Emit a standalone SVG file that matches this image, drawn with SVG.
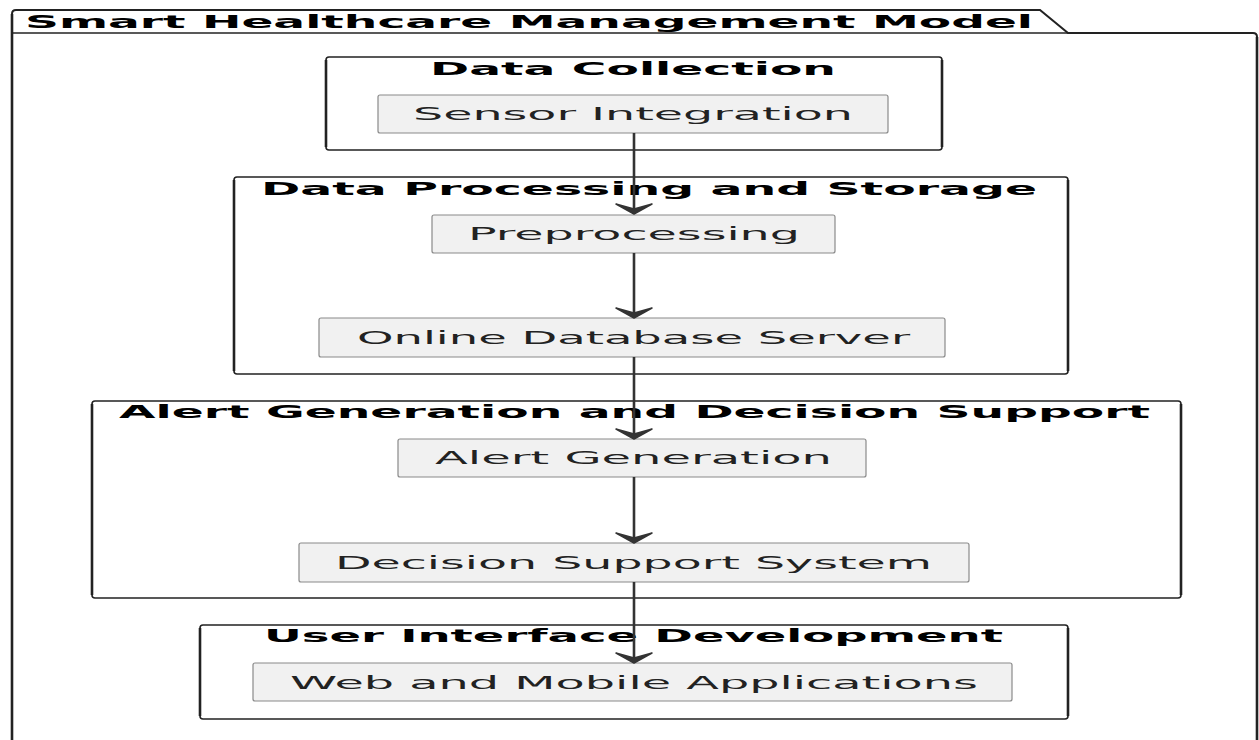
<svg xmlns="http://www.w3.org/2000/svg" width="1259" height="740" viewBox="0 0 1259 740">
<style>
.frame{fill:none;stroke:#222;stroke-width:1.6}
.vside{stroke:#222;stroke-width:2.6;fill:none}
.node{fill:#f1f1f1;stroke:#8a8a8a;stroke-width:1.2}
.ttl{font-family:"DejaVu Sans",sans-serif;font-weight:bold;font-size:17px;fill:#000}
.lbl{font-family:"DejaVu Sans",sans-serif;font-size:17px;fill:#222}
.edge{stroke:#333;stroke-width:2.6;fill:none}
.head{fill:#333;stroke:#333;stroke-width:1.5;stroke-linejoin:round}
</style>
<rect width="1259" height="740" fill="#fff"/>
<g id="package">
<path d="M12,740 V14 Q12,10 16,10 H1040 L1068,33 H1253 Q1257,33 1257,37 V740" fill="none" stroke="#222" stroke-width="2"/>
<path class="vside" d="M12,14 V740 M1257,37 V740"/>
<line x1="12" y1="33" x2="1068" y2="33" stroke="#222" stroke-width="1.5"/>
<text class="ttl" x="25" y="28" font-size="18" textLength="1008" lengthAdjust="spacingAndGlyphs">Smart Healthcare Management Model</text>
</g>
<g id="data-collection">
<rect class="frame" x="326" y="57" width="616" height="93" rx="3"/>
<path class="vside" d="M326,60 V147 M942,60 V147"/>
<text class="ttl" x="430" y="75" textLength="406" lengthAdjust="spacingAndGlyphs">Data Collection</text>
</g>
<g id="sensor-integration">
<rect class="node" x="378" y="95" width="510" height="38" rx="2"/>
<text class="lbl" x="413" y="120" textLength="440" lengthAdjust="spacingAndGlyphs">Sensor Integration</text>
</g>
<g id="data-processing">
<rect class="frame" x="234" y="177" width="834" height="197" rx="3"/>
<path class="vside" d="M234,180 V371 M1068,180 V371"/>
<text class="ttl" x="261" y="195" textLength="776" lengthAdjust="spacingAndGlyphs">Data Processing and Storage</text>
</g>
<g id="preprocessing">
<rect class="node" x="432" y="215" width="403" height="38" rx="2"/>
<text class="lbl" x="468" y="240" textLength="332" lengthAdjust="spacingAndGlyphs">Preprocessing</text>
</g>
<g id="online-database-server">
<rect class="node" x="319" y="318" width="626" height="39" rx="2"/>
<text class="lbl" x="357" y="344" textLength="553" lengthAdjust="spacingAndGlyphs">Online Database Server</text>
</g>
<g id="alert-decision">
<rect class="frame" x="92" y="401" width="1089" height="197" rx="3"/>
<path class="vside" d="M92,404 V595 M1181,404 V595"/>
<text class="ttl" x="119" y="418" textLength="1031" lengthAdjust="spacingAndGlyphs">Alert Generation and Decision Support</text>
</g>
<g id="alert-generation">
<rect class="node" x="398" y="439" width="468" height="38" rx="2"/>
<text class="lbl" x="435" y="464" textLength="397" lengthAdjust="spacingAndGlyphs">Alert Generation</text>
</g>
<g id="decision-support-system">
<rect class="node" x="299" y="543" width="670" height="39" rx="2"/>
<text class="lbl" x="335" y="569" textLength="597" lengthAdjust="spacingAndGlyphs">Decision Support System</text>
</g>
<g id="user-interface">
<rect class="frame" x="200" y="625" width="868" height="94" rx="3"/>
<path class="vside" d="M200,628 V716 M1068,628 V716"/>
<text class="ttl" x="264" y="642" textLength="739" lengthAdjust="spacingAndGlyphs">User Interface Development</text>
</g>
<g id="web-mobile-apps">
<rect class="node" x="253" y="663" width="759" height="38" rx="2"/>
<text class="lbl" x="290" y="689" textLength="688" lengthAdjust="spacingAndGlyphs">Web and Mobile Applications</text>
</g>
<g id="connectors">
<line class="edge" x1="634" y1="133" x2="634" y2="210"/>
<polygon class="head" points="634,214 616,204 634,209 652,204"/>
<line class="edge" x1="634" y1="253" x2="634" y2="314"/>
<polygon class="head" points="634,318 616,308 634,313 652,308"/>
<line class="edge" x1="634" y1="357" x2="634" y2="435"/>
<polygon class="head" points="634,439 616,429 634,434 652,429"/>
<line class="edge" x1="634" y1="477" x2="634" y2="539"/>
<polygon class="head" points="634,543 616,533 634,538 652,533"/>
<line class="edge" x1="634" y1="582" x2="634" y2="659"/>
<polygon class="head" points="634,663 616,653 634,658 652,653"/>
</g>
</svg>
